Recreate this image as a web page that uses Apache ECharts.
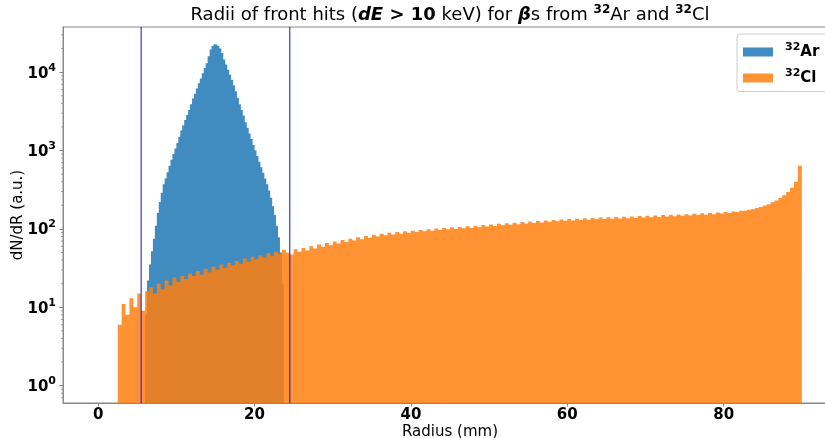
<!DOCTYPE html>
<html><head><meta charset="utf-8">
<script src="https://cdn.jsdelivr.net/npm/echarts@6/dist/echarts.min.js"></script>
<style>html,body{margin:0;padding:0;background:#fff}#c{width:825px;height:438px}</style>
</head><body><div id="c"></div>
<script>
// ---- data (histogram bin counts) ----
const arBinStart = 6.0, arBinWidth = 0.25;
const arCounts = [8,22,35,52,75,110,160,220,290,370,440,530,640,760,900,1060,1250,1500,1800,2100,
  2450,2850,3300,3900,4600,5300,6200,7200,8300,9700,11300,13000,16000,19500,21500,22700,22500,21500,20000,17500,
  14500,12500,10700,9300,8000,6800,5700,4700,3900,3300,2800,2300,1950,1650,1400,1180,1000,850,720,610,
  520,440,370,310,250,195,150,110,78,50,20];
const clBinStart = 2.5, clBinWidth = 0.5;
const clCounts = [6,11,8,13,10,15,9,16,18,15,20,17,22,19,24,21,25,23,27,25,
  29,26,31,28,33,30,35,32,37,34,39,36,42,38,44,41,46,43,49,45,
  51,48,54,50,47,55,51,57,53,60,56,63,59,66,62,69,65,72,68,75,
  71,78,74,81,77,84,80,87,83,89,85,91,87,93,89,95,91,97,93,99,
  95,101,97,103,99,105,100,106,102,108,103,110,105,112,107,114,109,116,111,118,
  113,120,115,122,117,124,119,126,121,128,123,130,125,132,127,134,128,135,130,137,
  131,138,133,140,134,141,135,142,136,143,137,144,138,146,140,147,141,148,142,150,
  144,151,145,153,147,154,148,156,150,158,152,160,154,162,157,164,160,167,164,171,
  170,176,178,185,190,199,207,218,231,247,268,295,335,400,640];
const cutLines = [5.5, 24.5];
const xTicks = [0, 20, 40, 60, 80];
const yMinorTicks = [0.7,0.8,0.9,2,3,4,5,6,7,8,9,20,30,40,50,60,70,80,90,
  200,300,400,500,600,700,800,900,2000,3000,4000,5000,6000,7000,8000,9000,20000,30000];
const seriesNames = ['32Ar', '32Cl'];

const X_MIN = -4.5, X_MAX = 94.5, Y_MIN = 0.6, Y_MAX = 37700;
const FONT = 'DejaVu Sans';
const AXIS_COLOR = '#888';
const AR_COLOR = 'rgba(31,119,180,0.85)';
const CL_COLOR = 'rgba(255,127,14,0.85)';

function histSeries(name, start, width, counts, color) {
  return {
    type: 'custom', name: name, coordinateSystem: 'cartesian2d', clip: true,
    itemStyle: { color: color },
    data: [[start, counts[0]]],
    encode: { x: 0, y: 1 },
    silent: true,
    renderItem: function (params, api) {
      const pts = [api.coord([start, Y_MIN])];
      counts.forEach(function (c, i) {
        const v = c > 0 ? c : Y_MIN;
        pts.push(api.coord([start + i * width, v]));
        pts.push(api.coord([start + (i + 1) * width, v]));
      });
      pts.push(api.coord([start + counts.length * width, Y_MIN]));
      return { type: 'polygon', shape: { points: pts }, style: { fill: color } };
    }
  };
}

const tickRich = {
  t: { fontFamily: FONT, fontSize: 15, fontWeight: 'bold', color: '#000', lineHeight: 20, padding: [3, 0, 0, 0] },
  s: { fontFamily: FONT, fontSize: 11, fontWeight: 'bold', color: '#000', lineHeight: 14, verticalAlign: 'top' }
};
const legendRich = {
  p: { width: 7 },
  t: { fontFamily: FONT, fontSize: 15, fontWeight: 'bold', color: '#000', lineHeight: 20 },
  s: { fontFamily: FONT, fontSize: 11, fontWeight: 'bold', color: '#000', lineHeight: 12, verticalAlign: 'top' }
};

const chart = echarts.init(document.getElementById('c'), null, { renderer: 'canvas' });
chart.setOption({
  animation: false,
  backgroundColor: '#fff',
  graphic: [{
    type: 'text', x: 450, y: 15, z: 10,
    style: {
      text: '{n|Radii of front hits (}{bi|dE}{b| > 10}{n| keV) for }{bi|β}{n|s from }{s|32}{n|Ar and }{s|32}{n|Cl}',
      align: 'center', verticalAlign: 'middle',
      rich: {
        n: { fontFamily: FONT, fontSize: 18, color: '#000', lineHeight: 22 },
        b: { fontFamily: FONT, fontSize: 18, fontWeight: 'bold', color: '#000', lineHeight: 22 },
        bi: { fontFamily: FONT, fontSize: 18, fontWeight: 'bold', fontStyle: 'italic', color: '#000', lineHeight: 22 },
        s: { fontFamily: FONT, fontSize: 12, fontWeight: 'bold', color: '#000', lineHeight: 12, verticalAlign: 'top' }
      }
    }
  }],
  legend: {
    orient: 'vertical', left: 737, top: 34,
    itemWidth: 30, itemHeight: 9, itemGap: 8.5,
    padding: [8, 40, 6, 6],
    backgroundColor: 'rgba(255,255,255,0.8)', borderColor: '#ccc', borderWidth: 1, borderRadius: 3,
    data: [{ name: seriesNames[0], icon: 'rect' }, { name: seriesNames[1], icon: 'rect' }],
    formatter: function (name) { return '{p|}{s|' + name.slice(0, 2) + '}{t|' + name.slice(2) + '}'; },
    textStyle: { rich: legendRich },
    selectedMode: false
  },
  grid: { left: 63, top: 27, width: 774, height: 376, outerBoundsMode: 'none', containLabel: false,
    show: true, borderColor: AXIS_COLOR, borderWidth: 1, backgroundColor: 'transparent' },
  xAxis: {
    type: 'value', min: X_MIN, max: X_MAX,
    name: 'Radius (mm)', nameLocation: 'middle', nameGap: 22, nameMoveOverlap: false,
    nameTextStyle: { fontFamily: FONT, fontSize: 15, color: '#000' },
    axisLine: { show: true, onZero: false, lineStyle: { color: AXIS_COLOR, width: 1 } },
    axisTick: { show: true, customValues: xTicks, length: 3.5, lineStyle: { color: AXIS_COLOR } },
    axisLabel: { customValues: xTicks, margin: 5, fontFamily: FONT, fontSize: 15, fontWeight: 'bold', color: '#000' },
    splitLine: { show: false }
  },
  yAxis: {
    type: 'log', logBase: 10, min: Y_MIN, max: Y_MAX,
    name: 'dN/dR (a.u.)', nameLocation: 'middle', nameGap: 37, nameRotate: 90, nameMoveOverlap: false,
    nameTextStyle: { fontFamily: FONT, fontSize: 15, color: '#000' },
    axisLine: { show: true, onZero: false, lineStyle: { color: AXIS_COLOR, width: 1 } },
    axisTick: { show: true, length: 3.5, lineStyle: { color: AXIS_COLOR } },
    axisLabel: {
      margin: 7, showMinLabel: false, showMaxLabel: false,
      formatter: function (v) {
        const e = Math.round(Math.log10(v));
        if (Math.abs(Math.pow(10, e) - v) > 1e-6 * v) return '';
        return '{t|10}{s|' + e + '}';
      },
      rich: tickRich
    },
    splitLine: { show: false }
  },
  series: [
    histSeries(seriesNames[0], arBinStart, arBinWidth, arCounts, AR_COLOR),
    histSeries(seriesNames[1], clBinStart, clBinWidth, clCounts, CL_COLOR),
    {
      type: 'custom', name: 'cuts', coordinateSystem: 'cartesian2d', clip: true, silent: true, z: 5,
      data: cutLines.map(function (x) { return [x, Y_MIN]; }),
      renderItem: function (params, api) {
        const b = api.coord([api.value(0), Y_MIN]);
        const t = api.coord([api.value(0), Y_MAX]);
        return { type: 'line', shape: { x1: b[0], y1: b[1], x2: t[0], y2: t[1] },
          style: { stroke: 'rgba(20,20,255,0.8)', lineWidth: 1.3 } };
      }
    },
    {
      type: 'custom', name: 'minorTicks', coordinateSystem: 'cartesian2d', clip: false, silent: true,
      data: yMinorTicks.map(function (v) { return [X_MIN, v]; }),
      renderItem: function (params, api) {
        const p = api.coord([X_MIN, api.value(1)]);
        return { type: 'line', shape: { x1: p[0], y1: p[1], x2: p[0] - 2, y2: p[1] },
          style: { stroke: AXIS_COLOR, lineWidth: 0.8 } };
      }
    }
  ]
});
</script>
</body></html>
